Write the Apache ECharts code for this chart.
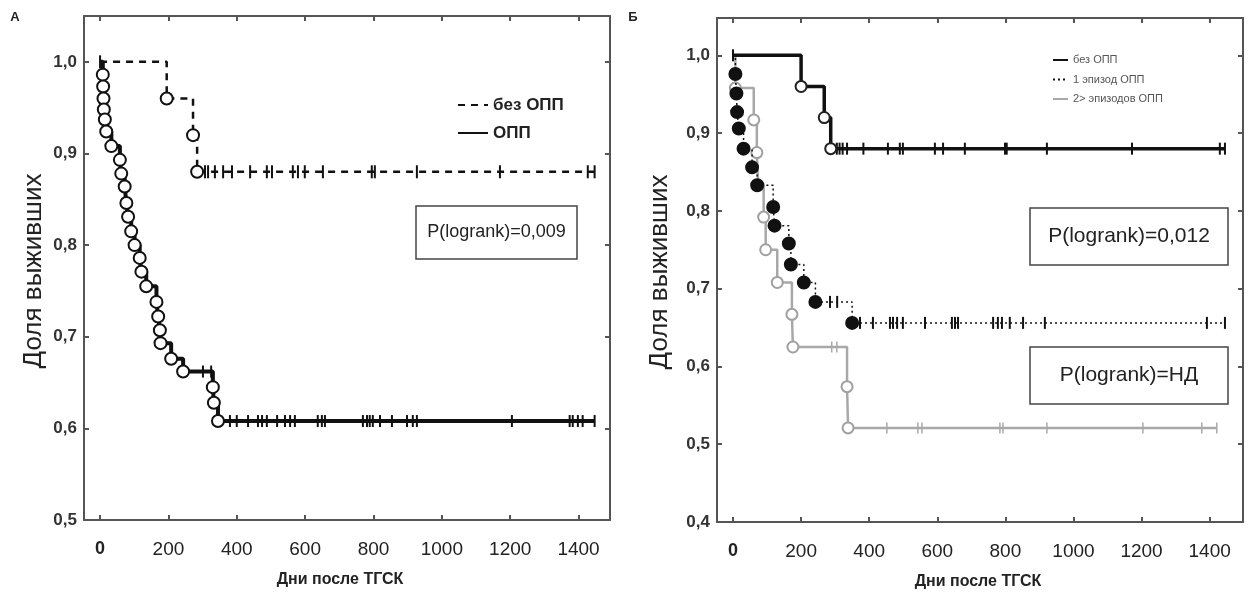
<!DOCTYPE html>
<html>
<head>
<meta charset="utf-8">
<script src="https://cdn.jsdelivr.net/npm/echarts@6/dist/echarts.min.js"></script>
<style>
  html, body { margin: 0; padding: 0; background: #fff; }
  #main { width: 1249px; height: 593px; }
</style>
</head>
<body>
<div id="main"></div>
<script>
// ticks
const dayTicks = [0, 200, 400, 600, 800, 1000, 1200, 1400];
const survTicksA = [0.5, 0.6, 0.7, 0.8, 0.9, 1.0];
const survTicksB = [0.4, 0.5, 0.6, 0.7, 0.8, 0.9, 1.0];

// panel A, без ОПП (events + censored)
const aNoDays = [195, 272, 284];
const aNoSurv = [0.96, 0.92, 0.88];
const aNoCens = [0, 307, 316, 336, 360, 386, 439, 488, 503, 564, 579, 599, 652, 795, 804, 927, 1170, 1427, 1447];

// panel A, ОПП
const aAkiDays = [8, 9, 10, 11, 14, 18, 33, 58, 62, 72, 77, 82, 91, 101, 116, 121, 135, 165, 170, 175, 177, 208, 243, 330, 333, 345];
const aAkiSurv = [0.986, 0.973, 0.960, 0.948, 0.937, 0.924, 0.908, 0.893, 0.878, 0.864, 0.846, 0.831, 0.815, 0.800, 0.786, 0.771, 0.755, 0.738, 0.722, 0.707, 0.693, 0.676, 0.662, 0.645, 0.628, 0.608];
const aAkiCens = [301, 325, 351, 380, 400, 433, 462, 474, 488, 518, 541, 556, 570, 637, 649, 658, 769, 781, 789, 798, 819, 854, 898, 915, 927, 1205, 1374, 1383, 1398, 1412, 1447];

// panel Б, без ОПП
const bNoDays = [200, 268, 287];
const bNoSurv = [0.96, 0.92, 0.88];
const bNoCens = [0, 305, 313, 322, 335, 383, 455, 490, 499, 593, 617, 681, 799, 804, 922, 1172, 1430, 1445];

// panel Б, 1 эпизод ОПП
const bOneDays = [7, 10, 12, 17, 31, 56, 71, 118, 122, 164, 170, 208, 242, 350];
const bOneSurv = [0.976, 0.951, 0.927, 0.906, 0.880, 0.856, 0.833, 0.805, 0.781, 0.758, 0.731, 0.708, 0.683, 0.656];
const bOneCens = [285, 306, 373, 411, 461, 470, 482, 499, 564, 643, 652, 661, 764, 778, 790, 813, 852, 916, 1392, 1445];

// panel Б, 2> эпизодов ОПП
const bTwoDays = [7, 61, 70, 74, 90, 96, 130, 173, 176, 335, 338];
const bTwoSurv = [0.958, 0.917, 0.875, 0.833, 0.792, 0.750, 0.708, 0.667, 0.625, 0.574, 0.521];
const bTwoCens = [290, 305, 452, 543, 555, 784, 793, 922, 1204, 1377, 1421];

// survival level of a step curve at a given day
function levelAt(days, surv, day) {
  let s = 1;
  for (let i = 0; i < days.length; i++) if (days[i] <= day) s = surv[i];
  return s;
}

function kmSeries(name, axis, days, surv, cens, st) {
  const end = cens[cens.length - 1];
  const line = [[0, 1]].concat(days.map((d, i) => [d, surv[i]]), [[end, levelAt(days, surv, end)]]);
  return [
    {
      type: 'line', name: name, xAxisIndex: axis, yAxisIndex: axis,
      data: line, step: 'end', symbol: 'none', silent: true, z: st.z,
      itemStyle: { color: st.color },
      lineStyle: { color: st.color, width: st.width, type: st.type }
    },
    {
      type: 'scatter', xAxisIndex: axis, yAxisIndex: axis, silent: true, z: st.z + 1,
      data: cens.map(d => [d, levelAt(days, surv, d)]),
      symbol: 'rect', symbolSize: st.cens,
      itemStyle: { color: st.color, opacity: 1 }
    },
    {
      type: 'scatter', xAxisIndex: axis, yAxisIndex: axis, silent: true, z: st.z + 2,
      data: days.map((d, i) => [d, surv[i]]),
      symbol: 'circle', symbolSize: st.dot,
      itemStyle: { color: st.fill, borderColor: st.ring, borderWidth: 2, opacity: 1 }
    }
  ];
}

const frame = { onZero: false, lineStyle: { color: '#555', width: 2 } };
const tick = { color: '#555', width: 2 };

function xAxes(gridIndex, max) {
  return [
    {
      type: 'value', gridIndex: gridIndex, min: -47, max: max, position: 'bottom',
      axisLine: frame, splitLine: { show: false },
      axisTick: { inside: true, length: 5, customValues: dayTicks, lineStyle: tick },
      axisLabel: {
        customValues: dayTicks, margin: 20, fontFamily: 'Liberation Sans', fontSize: 19, color: '#222',
        formatter: v => v === 0 ? '{z|0}' : String(v),
        rich: { z: { fontWeight: 'bold', fontSize: 18, fontFamily: 'Liberation Sans', color: '#222' } }
      }
    },
    {
      type: 'value', gridIndex: gridIndex, min: -47, max: max, position: 'top',
      axisLine: frame, splitLine: { show: false }, axisLabel: { show: false },
      axisTick: { inside: true, length: 5, customValues: dayTicks, lineStyle: tick }
    }
  ];
}

function yAxes(gridIndex, min, max, ticks) {
  return [
    {
      type: 'value', gridIndex: gridIndex, min: min, max: max, position: 'left',
      axisLine: frame, splitLine: { show: false },
      axisTick: { inside: true, length: 5, customValues: ticks, lineStyle: tick },
      axisLabel: {
        customValues: ticks, margin: 7, fontFamily: 'Liberation Sans', fontWeight: 'bold', fontSize: 17, color: '#333',
        formatter: v => v.toFixed(1).replace('.', ',')
      }
    },
    {
      type: 'value', gridIndex: gridIndex, min: min, max: max, position: 'right',
      axisLine: frame, splitLine: { show: false }, axisLabel: { show: false },
      axisTick: { inside: true, length: 5, customValues: ticks, lineStyle: tick }
    }
  ];
}

function box(x, y, w, h, text, size) {
  return {
    type: 'group', x: x, y: y,
    children: [
      { type: 'rect', shape: { x: 0, y: 0, width: w, height: h }, style: { fill: '#fff', stroke: '#444', lineWidth: 1.5 } },
      { type: 'text', x: w / 2, y: h / 2, style: { text: text, fontFamily: 'Liberation Sans', fontSize: size, fill: '#222', align: 'center', verticalAlign: 'middle' } }
    ]
  };
}

function label(x, y, text, size, weight, rot) {
  return {
    type: 'text', x: x, y: y, rotation: rot || 0,
    style: { text: text, fontFamily: 'Liberation Sans', fontSize: size, fontWeight: weight, fill: '#222', align: 'center', verticalAlign: 'middle' }
  };
}

const series = [].concat(
  kmSeries('ОПП', 0, aAkiDays, aAkiSurv, aAkiCens,
    { color: '#111', width: 4, type: 'solid', z: 2, fill: '#fff', ring: '#111', dot: 12, cens: [2, 12] }),
  kmSeries('без ОПП', 0, aNoDays, aNoSurv, aNoCens,
    { color: '#111', width: 2.5, type: [7, 6], z: 5, fill: '#fff', ring: '#111', dot: 12, cens: [2, 13] }),
  kmSeries('2> эпизодов ОПП', 2, bTwoDays, bTwoSurv, bTwoCens,
    { color: '#a8a8a8', width: 2.5, type: 'solid', z: 2, fill: '#fff', ring: '#a0a0a0', dot: 11, cens: [1.5, 11] }),
  kmSeries('1 эпизод ОПП', 2, bOneDays, bOneSurv, bOneCens,
    { color: '#111', width: 1.5, type: [2, 3], z: 5, fill: '#111', ring: '#111', dot: 12, cens: [2, 12] }),
  kmSeries('без ОПП ', 2, bNoDays, bNoSurv, bNoCens,
    { color: '#111', width: 3.5, type: 'solid', z: 8, fill: '#fff', ring: '#222', dot: 11, cens: [2, 12] })
);

const hideDot = { color: 'rgba(0,0,0,0)', borderColor: 'rgba(0,0,0,0)', borderWidth: 0 };

const chart = echarts.init(document.getElementById('main'));
chart.setOption({
  animation: false,
  backgroundColor: '#fff',
  grid: [
    { left: 84, top: 16, width: 526, height: 504 },
    { left: 717, top: 18, width: 526, height: 504 }
  ],
  xAxis: xAxes(0, 1492).concat(xAxes(1, 1498)),
  yAxis: yAxes(0, 0.5, 1.05, survTicksA).concat(yAxes(1, 0.4, 1.048, survTicksB)),
  legend: [
    {
      data: ['без ОПП', 'ОПП'], orient: 'vertical', left: 452, top: 91,
      itemWidth: 30, itemHeight: 14, itemGap: 10, selectedMode: false, itemStyle: hideDot,
      textStyle: { fontFamily: 'Liberation Sans', fontWeight: 'bold', fontSize: 17, color: '#222', lineHeight: 18 }
    },
    {
      data: ['без ОПП ', '1 эпизод ОПП', '2> эпизодов ОПП'], orient: 'vertical', left: 1047, top: 49,
      itemWidth: 15, itemHeight: 12, itemGap: 7.5, selectedMode: false, itemStyle: hideDot,
      textStyle: { fontFamily: 'Liberation Sans', fontSize: 11, color: '#555', lineHeight: 12 }
    }
  ],
  graphic: [
    label(15, 17, 'A', 13, 'bold'),
    label(633, 17, 'Б', 13, 'bold'),
    label(34, 271, 'Доля выживших', 26, 'normal', Math.PI / 2),
    label(660, 272, 'Доля выживших', 26, 'normal', Math.PI / 2),
    label(340, 580, 'Дни после ТГСК', 16, 'bold'),
    label(978, 582, 'Дни после ТГСК', 16, 'bold'),
    box(416, 206, 161, 53, 'P(logrank)=0,009', 18),
    box(1030, 208, 198, 57, 'P(logrank)=0,012', 21),
    box(1030, 347, 198, 57, 'P(logrank)=НД', 21)
  ],
  series: series
});
</script>
</body>
</html>
